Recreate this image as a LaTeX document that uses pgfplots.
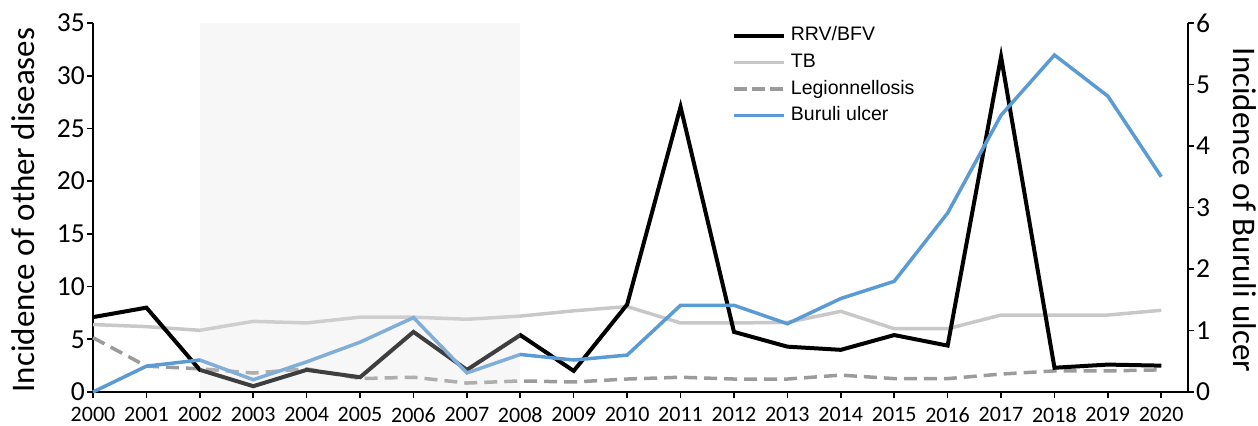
\documentclass[border=0pt]{standalone}
\usepackage{fontspec}
\setmainfont{Carlito}
\newfontfamily\arialfont{Liberation Sans}
\usepackage{pgfplots}
\usepackage{pgfplotstable}
\pgfplotsset{compat=1.18}
\definecolor{tbgray}{RGB}{200,200,200}
\definecolor{leggray}{RGB}{155,155,155}
\definecolor{buruli}{RGB}{91,155,213}
\definecolor{shadecol}{RGB}{225,225,225}

\pgfplotstableread{
year rrv tb leg
2000 7.1 6.4 5.15
2001 8.0 6.2 2.45
2002 2.1 5.85 2.2
2003 0.55 6.7 1.8
2004 2.1 6.55 2.2
2005 1.4 7.1 1.27
2006 5.7 7.1 1.4
2007 2.1 6.9 0.85
2008 5.4 7.2 1.05
2009 2.0 7.7 0.95
2010 8.3 8.1 1.23
2011 27.05 6.55 1.4
2012 5.7 6.55 1.23
2013 4.3 6.6 1.23
2014 4.0 7.65 1.6
2015 5.4 6.0 1.27
2016 4.4 6.0 1.27
2017 31.8 7.3 1.7
2018 2.3 7.3 2.0
2019 2.6 7.3 2.0
2020 2.5 7.75 2.1
}\other

\pgfplotstableread{
year bu
2000 0.0
2001 0.42
2002 0.52
2003 0.2
2004 0.49
2005 0.81
2006 1.21
2007 0.31
2008 0.61
2009 0.52
2010 0.6
2011 1.41
2012 1.41
2013 1.11
2014 1.52
2015 1.8
2016 2.91
2017 4.5
2018 5.48
2019 4.81
2020 3.5
}\buru

\begin{document}
\begin{tikzpicture}
\useasboundingbox (-93bp,-34bp) rectangle (1165bp,392bp);
\pgfplotsset{
  base/.style={
    scale only axis, width=1095bp, height=369bp,
    xmin=2000, xmax=2020.5,
    clip=false,
    tick align=outside, major tick length=6bp,
    every tick/.style={black, line width=1.6bp},
    axis line style={black, line width=2bp},
    /pgf/number format/assume math mode=true,
  }
}
\begin{axis}[base,
  ymin=0, ymax=35,
  axis y line*=left, axis x line*=bottom,
  xtick={2000,...,2020}, ytick={0,5,...,35},
  xticklabel style={/pgf/number format/1000 sep={}, font=\fontsize{22bp}{26bp}\selectfont, inner sep=0pt, yshift=-9.5bp},
  yticklabel style={font=\fontsize{27.5bp}{32bp}\selectfont, inner sep=2bp},
  every axis y label/.style={at={(axis description cs:-0.053,0.493)}, rotate=90, anchor=base},
  ylabel={\fontsize{33bp}{38bp}\selectfont Incidence of other diseases},
]
\addplot[tbgray, line width=3.5bp] table[x=year, y=tb] {\other};
\addplot[leggray, line width=3.5bp, dash pattern=on 13bp off 7bp] table[x=year, y=leg] {\other};
\addplot[black, line width=4bp] table[x=year, y=rrv] {\other};
\end{axis}
\begin{axis}[base,
  ymin=0, ymax=6,
  axis y line*=right, axis x line=none,
  ytick={0,1,...,6},
  yticklabel style={font=\fontsize{27.5bp}{32bp}\selectfont, inner sep=2bp},
  every axis y label/.style={at={(axis description cs:1.0411,0.493)}, rotate=-90, anchor=base},
  ylabel={\fontsize{33bp}{38bp}\selectfont Incidence of Buruli ulcer},
  legend style={at={(axis description cs:0.5833,0.99)}, anchor=north west, draw=none, fill=none,
    inner xsep=0pt, inner ysep=0pt, row sep=8.6bp,
    font=\arialfont\fontsize{19.5bp}{22bp}\selectfont,
    nodes={inner xsep=5bp, inner ysep=0pt, text height=14bp, text depth=4bp}},
  legend cell align=left,
  legend image code/.code={\draw[#1] (0bp,0bp) -- (50bp,0bp);},
]
\addlegendimage{black, line width=4bp}
\addlegendentry{RRV/BFV}
\addlegendimage{tbgray, line width=3.5bp}
\addlegendentry{TB}
\addlegendimage{leggray, line width=3.5bp, dash pattern=on 13bp off 5bp}
\addlegendentry{Legionnellosis}
\addlegendimage{buruli, line width=3.5bp}
\addlegendentry{Buruli ulcer}
\addplot[buruli, line width=3.5bp, forget plot] table[x=year, y=bu] {\buru};
\fill[shadecol, opacity=0.28] (axis cs:2002,0.02) rectangle (axis cs:2008,6);
\end{axis}
\end{tikzpicture}
\end{document}
